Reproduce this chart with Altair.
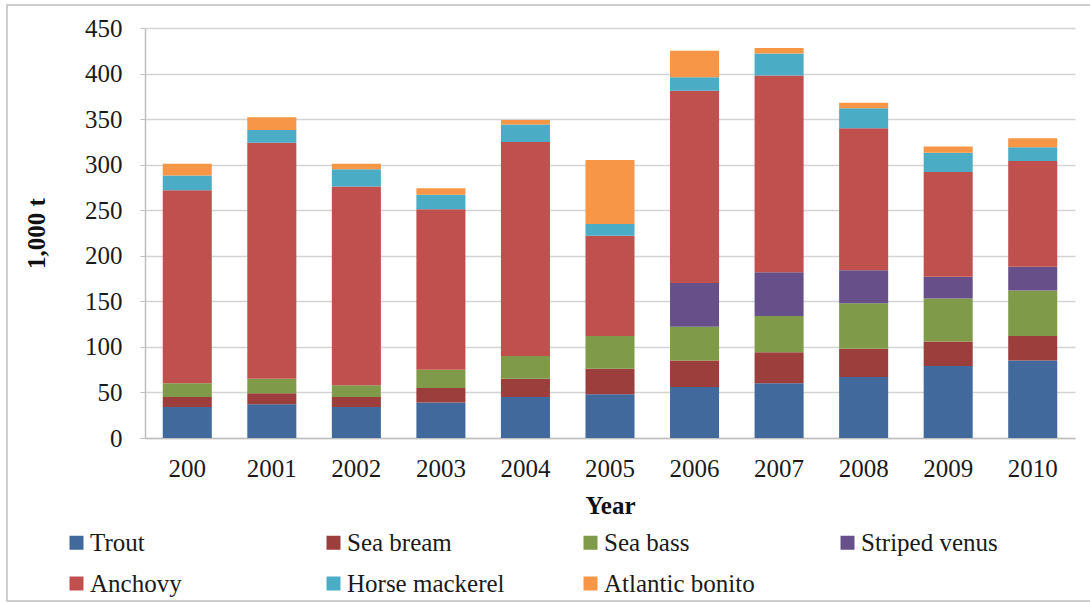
import altair as alt
import pandas as pd

# Production by species, thousand tonnes
years = ["200", "2001", "2002", "2003", "2004", "2005", "2006", "2007", "2008", "2009", "2010"]
species = ["Trout", "Sea bream", "Sea bass", "Striped venus", "Anchovy", "Horse mackerel", "Atlantic bonito"]
colors = ["#41699c", "#9b3e3c", "#7f9a48", "#67508a", "#c0504d", "#4bacc6", "#f79646"]

trout = [34, 37, 34, 39, 45, 48, 56, 60, 67, 79, 85]
sea_bream = [11, 12, 11, 16, 20, 28, 29, 34, 31, 27, 27]
sea_bass = [15, 16, 13, 20, 25, 36, 37, 40, 50, 47, 50]
striped_venus = [0, 0, 0, 0, 0, 0, 48, 48, 36, 24, 26]
anchovy = [212, 259, 218, 176, 235, 110, 211, 216, 156, 115, 116]
horse_mackerel = [16, 14, 19, 16, 19, 13, 15, 24, 22, 21, 15]
atlantic_bonito = [13, 14, 6, 7, 5, 70, 29, 6, 6, 7, 10]

series = [trout, sea_bream, sea_bass, striped_venus, anchovy, horse_mackerel, atlantic_bonito]
rows = []
for k, (name, vals) in enumerate(zip(species, series)):
    for yr, v in zip(years, vals):
        rows.append({"Year": yr, "Species": name, "Order": k, "Value": v})
df = pd.DataFrame(rows)

FONT = "Liberation Serif, Times New Roman, serif"
W, H = 930, 410

bars = alt.Chart(df).mark_bar().encode(
    x=alt.X("Year:N", sort=years,
            scale=alt.Scale(paddingInner=0.42, paddingOuter=0.21),
            axis=alt.Axis(title="Year", labelAngle=0, labelFontSize=25, titleFontSize=25,
                          titleFontWeight="bold", labelPadding=18, titlePadding=12,
                          ticks=False, domainColor="#bfbfbf", domainWidth=1.5)),
    y=alt.Y("Value:Q", stack="zero",
            scale=alt.Scale(domain=[0, 450]),
            axis=alt.Axis(title="1,000 t", values=list(range(0, 451, 50)),
                          labelFontSize=25, titleFontSize=25, titleFontWeight="bold",
                          labelPadding=18, titlePadding=35, tickSize=5,
                          tickColor="#bfbfbf", domainColor="#bfbfbf", domainWidth=1.5,
                          gridColor="#d4d4d4", gridWidth=1.6)),
    color=alt.Color("Species:N", sort=species,
                    scale=alt.Scale(domain=species, range=colors),
                    legend=alt.Legend(title=None, orient="none", direction="horizontal",
                                      columns=4, legendX=-81, legendY=92 + H,
                                      symbolType="square", symbolSize=196,
                                      symbolStrokeWidth=0, labelFontSize=25,
                                      labelOffset=1, gridAlign="all",
                                      columnPadding=73, rowPadding=15,
                                      labelLimit=400)),
    order=alt.Order("Order:Q", sort="ascending"),
)

frame = alt.Chart(alt.Data(values=[{}])).mark_rect(
    fill=None, stroke="#bfbfbf", strokeWidth=1.5
).encode(
    x=alt.value(-138), x2=alt.value(960), y=alt.value(-23), y2=alt.value(573)
)

chart = alt.layer(bars, frame).properties(
    width=W, height=H,
    padding={"left": 145, "top": 28, "right": 15, "bottom": 165},
    autosize=alt.AutoSizeParams(type="none"),
).configure(
    font=FONT,
).configure_axis(
    labelFont=FONT, titleFont=FONT, labelColor="#1a1a1a", titleColor="#111111",
).configure_legend(
    labelFont=FONT, labelColor="#1a1a1a",
).configure_view(
    stroke=None,
)

chart.save("out.html", embed_options={"renderer": "svg", "actions": False})
